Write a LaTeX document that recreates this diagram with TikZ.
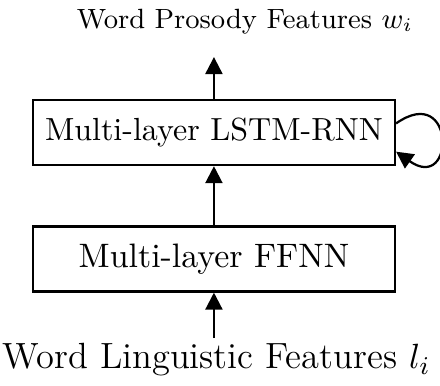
\documentclass[tikz,border=0pt]{standalone}
\usetikzlibrary{arrows.meta}
\begin{document}
\begin{tikzpicture}[
    layer/.style={draw, line width=0.7pt, minimum width=3.976cm, minimum height=0.714cm, inner sep=0pt},
    feat/.style={anchor=base, inner sep=1.5pt},
    flow/.style={line width=0.7pt, -{Triangle[length=5.3pt, width=5.3pt]}}
  ]
    \useasboundingbox (0,0) rectangle (4.833,4.229);
    \node[layer] (lstm) at (2.35,2.773) {Multi-layer LSTM-RNN};
    \node[layer, font=\fontsize{10.6}{12}\selectfont] (ffnn) at (2.35,1.384) {Multi-layer FFNN};
    \node[feat, font=\fontsize{8.7}{10}\selectfont] (prosody) at (2.69,3.92) {Word Prosody Features $w_i$};
    \node[feat, font=\fontsize{11.4}{13}\selectfont] (ling) at (2.38,0.176) {Word Linguistic Features $l_i$};
    \coordinate (out) at ([yshift=0.46cm]lstm.north);
    \draw[flow] (ling.north -| ffnn.south) -- (ffnn.south);
    \draw[flow] (ffnn.north) -- (lstm.south);
    \draw[flow] (lstm.north) -- (out);
    \draw[flow] ([yshift=0.1cm]lstm.east) .. controls +(35:0.8) and +(-35:0.8) .. ([yshift=-0.21cm]lstm.east);
\end{tikzpicture}
\end{document}
